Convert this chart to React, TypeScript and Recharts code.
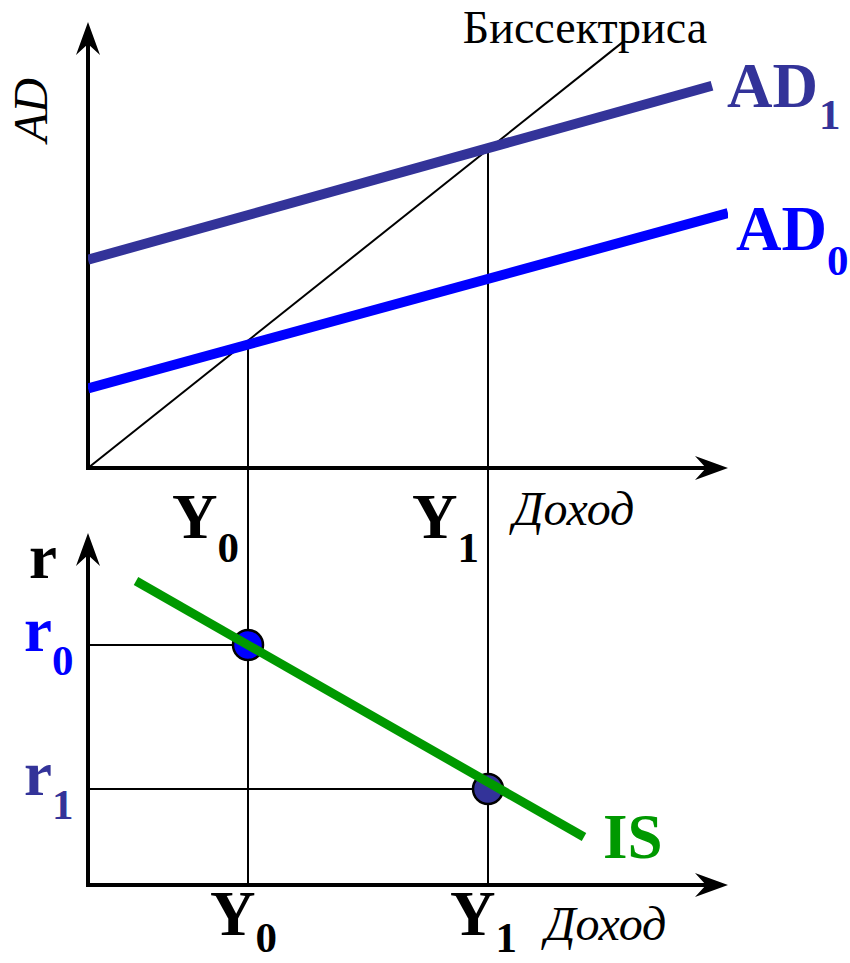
import React from 'react';
import { ComposedChart, Line, XAxis, YAxis, ReferenceLine, ReferenceDot } from 'recharts';

const FONT = '"Liberation Serif", "Times New Roman", serif';
const SUB = 43;

// income (Доход) on x; AD on y in the top panel, r in the bottom panel
const incomeTicks = [2, 5];
const incomeSubs = ['0', '1'];
const rateTicks = [7.5, 3];
const rateSubs = ['0', '1'];
const rateColors = ['#0000ff', '#333399'];

const bisector = [{ inc: 0, ad: 0 }, { inc: 6.7, ad: 6.7 }];
const ad0 = [{ inc: 0, ad: 1.25 }, { inc: 8, ad: 4.0 }];
const ad1 = [{ inc: 0, ad: 3.27 }, { inc: 7.8, ad: 6.0 }];
const isCurve = [{ inc: 0.6, r: 9.5 }, { inc: 6.2, r: 1.5 }];
const equilibria = [
  { inc: 2, ad: 2, r: 7.5 },
  { inc: 5, ad: 5, r: 3 },
];
const dotColors = ['#0000ff', '#333399'];

const incomeDomain = [0, 8];
const adDomain = [0, 7];
const rateDomain = [0, 11];

const arrowShape = (props: any) => {
  const { x1, y1, x2, y2 } = props;
  const dx = x2 - x1;
  const dy = y2 - y1;
  const len = Math.hypot(dx, dy) || 1;
  const ux = dx / len;
  const uy = dy / len;
  const nx = -uy;
  const ny = ux;
  const head = 33;
  const half = 12;
  const notch = 22;
  const bx = x2 - ux * head;
  const by = y2 - uy * head;
  const pts = [
    [x2, y2],
    [bx + nx * half, by + ny * half],
    [x2 - ux * notch, y2 - uy * notch],
    [bx - nx * half, by - ny * half],
  ]
    .map((p) => p.join(','))
    .join(' ');
  return (
    <g>
      <line
        x1={x1}
        y1={y1}
        x2={x2 - ux * notch}
        y2={y2 - uy * notch}
        stroke="#000"
        strokeWidth={4}
        strokeLinecap="square"
      />
      <polygon points={pts} fill="#000" />
    </g>
  );
};

const textAt = (render: (cx: number, cy: number) => React.ReactElement) => (p: any) => render(p.cx, p.cy);

const IncomeTickTop = (props: any) => {
  const { x, y, payload } = props;
  const i = incomeTicks.indexOf(payload.value);
  return (
    <text x={x - 9} y={y + 70} textAnchor="end" fontFamily={FONT} fontWeight="bold" fontSize={63} fill="#000">
      Y
      <tspan fontSize={SUB} dy={24}>
        {incomeSubs[i]}
      </tspan>
    </text>
  );
};

const IncomeTickBottom = (props: any) => {
  const { x, y, payload } = props;
  const i = incomeTicks.indexOf(payload.value);
  return (
    <text x={x - 38} y={y + 50} fontFamily={FONT} fontWeight="bold" fontSize={63} fill="#000">
      Y
      <tspan fontSize={SUB} dy={17}>
        {incomeSubs[i]}
      </tspan>
    </text>
  );
};

const RateTick = (props: any) => {
  const { x, y, payload } = props;
  const i = rateTicks.indexOf(payload.value);
  return (
    <text x={x - 64} y={y + 6} fontFamily={FONT} fontWeight="bold" fontSize={63} fill={rateColors[i]}>
      r
      <tspan fontSize={SUB} dy={24}>
        {rateSubs[i]}
      </tspan>
    </text>
  );
};

const EquilibriumDot = (props: any) => {
  const { cx, cy, index } = props;
  return <circle cx={cx} cy={cy} r={15} fill={dotColors[index]} stroke="#000" strokeWidth={2.5} />;
};

function TopPanel() {
  return (
    <ComposedChart width={850} height={580} margin={{ top: 22, right: 122, bottom: 0, left: 88 }}>
      <XAxis
        type="number"
        dataKey="inc"
        domain={incomeDomain}
        ticks={incomeTicks}
        interval={0}
        allowDataOverflow
        axisLine={false}
        tickLine={false}
        tickSize={0}
        tickMargin={0}
        height={112}
        tick={<IncomeTickTop />}
      />
      <YAxis type="number" domain={adDomain} allowDataOverflow hide />

      {equilibria.map((e, i) => (
        <ReferenceLine
          key={`v${i}`}
          segment={[{ x: e.inc, y: e.ad }, { x: e.inc, y: -1.1 }]}
          stroke="#000"
          strokeWidth={2}
          ifOverflow="visible"
        />
      ))}
      <ReferenceLine segment={[{ x: 0, y: 0 }, { x: 8, y: 0 }]} ifOverflow="visible" shape={arrowShape} />
      <ReferenceLine segment={[{ x: 0, y: 0 }, { x: 0, y: 7 }]} ifOverflow="visible" shape={arrowShape} />

      <Line data={bisector} dataKey="ad" type="linear" stroke="#000" strokeWidth={2} dot={false} activeDot={false} isAnimationActive={false} />
      <Line data={ad0} dataKey="ad" type="linear" stroke="#0000ff" strokeWidth={10} dot={false} activeDot={false} isAnimationActive={false} />
      <Line data={ad1} dataKey="ad" type="linear" stroke="#333399" strokeWidth={10} dot={false} activeDot={false} isAnimationActive={false} />

      <ReferenceDot
        x={0}
        y={7}
        r={0}
        ifOverflow="visible"
        shape={textAt((cx, cy) => (
          <text transform={`translate(${cx - 41},${cy + 120}) rotate(-90)`} fontFamily={FONT} fontStyle="italic" fontSize={48} fill="#000">
            AD
          </text>
        ))}
      />
      <ReferenceDot
        x={8}
        y={0}
        r={0}
        ifOverflow="visible"
        shape={textAt((cx, cy) => (
          <text x={cx - 215} y={cy + 57} fontFamily={FONT} fontStyle="italic" fontSize={48} fill="#000">
            Доход
          </text>
        ))}
      />
      <ReferenceDot
        x={bisector[1].inc}
        y={bisector[1].ad}
        r={0}
        ifOverflow="visible"
        shape={textAt((cx, cy) => (
          <text x={cx - 39} y={cy + 2} textAnchor="middle" fontFamily={FONT} fontSize={46} fill="#000">
            Биссектриса
          </text>
        ))}
      />
      <ReferenceDot
        x={ad1[1].inc}
        y={ad1[1].ad}
        r={0}
        ifOverflow="visible"
        shape={textAt((cx, cy) => (
          <text x={cx + 15} y={cy + 21} fontFamily={FONT} fontWeight="bold" fontSize={63} fill="#333399">
            AD
            <tspan fontSize={SUB} dx={1} dy={22}>
              1
            </tspan>
          </text>
        ))}
      />
      <ReferenceDot
        x={ad0[1].inc}
        y={ad0[1].ad}
        r={0}
        ifOverflow="visible"
        shape={textAt((cx, cy) => (
          <text x={cx + 8} y={cy + 37} fontFamily={FONT} fontWeight="bold" fontSize={63} fill="#0000ff">
            AD
            <tspan fontSize={SUB} dy={25}>
              0
            </tspan>
          </text>
        ))}
      />
    </ComposedChart>
  );
}

function BottomPanel() {
  return (
    <ComposedChart width={850} height={500} margin={{ top: 53, right: 122, bottom: 17, left: 0 }}>
      <XAxis
        type="number"
        dataKey="inc"
        domain={incomeDomain}
        ticks={incomeTicks}
        interval={0}
        allowDataOverflow
        axisLine={false}
        tickLine={false}
        tickSize={0}
        tickMargin={0}
        height={78}
        tick={<IncomeTickBottom />}
      />
      <YAxis
        type="number"
        domain={rateDomain}
        ticks={rateTicks}
        interval={0}
        allowDataOverflow
        axisLine={false}
        tickLine={false}
        tickSize={0}
        tickMargin={0}
        width={88}
        tick={<RateTick />}
      />

      {equilibria.map((e, i) => (
        <ReferenceLine
          key={`v${i}`}
          segment={[{ x: e.inc, y: 11 }, { x: e.inc, y: 0 }]}
          stroke="#000"
          strokeWidth={2}
          ifOverflow="visible"
        />
      ))}
      {equilibria.map((e, i) => (
        <ReferenceLine
          key={`h${i}`}
          segment={[{ x: 0, y: e.r }, { x: e.inc, y: e.r }]}
          stroke="#000"
          strokeWidth={2}
          ifOverflow="visible"
        />
      ))}
      <ReferenceLine segment={[{ x: 0, y: 0 }, { x: 8, y: 0 }]} ifOverflow="visible" shape={arrowShape} />
      <ReferenceLine segment={[{ x: 0, y: 0 }, { x: 0, y: 11 }]} ifOverflow="visible" shape={arrowShape} />

      <Line
        data={equilibria}
        dataKey="r"
        type="linear"
        stroke="none"
        dot={<EquilibriumDot />}
        activeDot={false}
        isAnimationActive={false}
        {...({ zIndex: 300 } as any)}
      />
      <Line
        data={isCurve}
        dataKey="r"
        type="linear"
        stroke="#009900"
        strokeWidth={9}
        dot={false}
        activeDot={false}
        isAnimationActive={false}
        {...({ zIndex: 2500 } as any)}
      />

      <ReferenceDot
        x={0}
        y={11}
        r={0}
        ifOverflow="visible"
        shape={textAt((cx, cy) => (
          <text x={cx - 59} y={cy + 45} fontFamily={FONT} fontWeight="bold" fontSize={63} fill="#000">
            r
          </text>
        ))}
      />
      <ReferenceDot
        x={8}
        y={0}
        r={0}
        ifOverflow="visible"
        shape={textAt((cx, cy) => (
          <text x={cx - 183} y={cy + 55} fontFamily={FONT} fontStyle="italic" fontSize={48} fill="#000">
            Доход
          </text>
        ))}
      />
      <ReferenceDot
        x={isCurve[1].inc}
        y={isCurve[1].r}
        r={0}
        ifOverflow="visible"
        shape={textAt((cx, cy) => (
          <text x={cx + 19} y={cy + 21} fontFamily={FONT} fontWeight="bold" fontSize={63} fill="#009900">
            IS
          </text>
        ))}
      />
    </ComposedChart>
  );
}

export default function App() {
  return (
    <div style={{ position: 'absolute', left: 0, top: 0, width: 850, height: 963, background: '#fff', overflow: 'hidden' }}>
      <div style={{ position: 'absolute', left: 0, top: 480 }}>
        <BottomPanel />
      </div>
      <div style={{ position: 'absolute', left: 0, top: 0 }}>
        <TopPanel />
      </div>
    </div>
  );
}
